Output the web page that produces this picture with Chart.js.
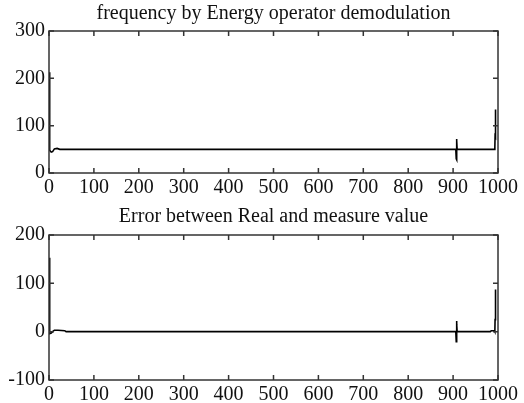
<!DOCTYPE html>
<html>
<head>
<meta charset="utf-8">
<script src="https://cdn.jsdelivr.net/npm/chart.js@4.4.1/dist/chart.umd.min.js"></script>
<style>
    body { margin: 0; background: #fff; }
    #wrap { position: relative; width: 524px; height: 403px; }
    canvas { position: absolute; left: 0; }
</style>
</head>
<body>
<div id="wrap">
    <canvas id="freq" width="524" height="200" style="top:0"></canvas>
    <canvas id="err" width="524" height="203" style="top:200px"></canvas>
</div>
<script>
// demodulated frequency, sample index vs value
const freqX = [0, 1, 2, 5, 8, 12, 18, 24, 906, 907, 907.5, 908, 908.5, 909, 992, 993, 993.5, 994, 994.5, 995];
const freqY = [213, 120, 48, 44, 45, 51, 52, 50, 50, 30, 72, 28, 68, 50, 50, 55, 78, 134, 76, 128];

// error between real and measured value
const errX = [0, 1, 2, 5, 8, 12, 20, 35, 38, 906, 907, 907.5, 908, 908.5, 909, 983, 985, 992, 993, 993.5, 994, 994.5, 995];
const errY = [153, 60, -4, -3, 0, 3, 3, 2, 0, 0, -21, 22, -18, 15, 0, 0, 2, 2, 0, 25, 87, 30, 45];

const xTicks = [0, 100, 200, 300, 400, 500, 600, 700, 800, 900, 1000];
const freqRange = [0, 300];
const errRange = [-100, 200];

const serif = "'Liberation Serif', 'Times New Roman', serif";
const ink = '#111';

// MATLAB-style box with ticks pointing inward
const boxPlugin = {
    id: 'box',
    afterDraw(chart) {
        const { ctx, chartArea: a, scales } = chart;
        const len = 5;
        ctx.save();
        ctx.strokeStyle = '#333';
        ctx.lineWidth = 1.5;
        ctx.strokeRect(a.left, a.top, a.right - a.left, a.bottom - a.top);
        ctx.beginPath();
        scales.x.ticks.forEach(t => {
            const px = scales.x.getPixelForValue(t.value);
            ctx.moveTo(px, a.bottom); ctx.lineTo(px, a.bottom - len);
            ctx.moveTo(px, a.top); ctx.lineTo(px, a.top + len);
        });
        scales.y.ticks.forEach(t => {
            const py = scales.y.getPixelForValue(t.value);
            ctx.moveTo(a.left, py); ctx.lineTo(a.left + len, py);
            ctx.moveTo(a.right, py); ctx.lineTo(a.right - len, py);
        });
        ctx.stroke();
        ctx.restore();
    }
};

function makePlot(id, title, xs, ys, range, titlePad, xHeight) {
    const points = xs.map((x, i) => ({ x: x, y: ys[i] }));
    return new Chart(document.getElementById(id), {
        type: 'line',
        data: {
            datasets: [{
                data: points,
                borderColor: '#000',
                borderWidth: 1.6,
                pointRadius: 0,
                tension: 0
            }]
        },
        options: {
            responsive: false,
            animation: false,
            layout: { padding: { left: 0, right: 26, top: 0, bottom: 0 } },
            plugins: {
                legend: { display: false },
                tooltip: { enabled: false },
                title: {
                    display: true,
                    text: title,
                    fullSize: false,
                    color: ink,
                    font: { family: serif, size: 20, weight: 'normal', lineHeight: 1 },
                    padding: titlePad
                }
            },
            scales: {
                x: {
                    type: 'linear',
                    min: 0,
                    max: 1000,
                    afterBuildTicks: s => { s.ticks = xTicks.map(v => ({ value: v })); },
                    afterFit: s => { s.height = xHeight; },
                    grid: { display: false, drawTicks: false },
                    border: { display: false },
                    ticks: {
                        autoSkip: false,
                        maxRotation: 0,
                        padding: 3,
                        color: ink,
                        font: { family: serif, size: 20 },
                        callback: v => String(v)
                    }
                },
                y: {
                    min: range[0],
                    max: range[1],
                    afterFit: s => { s.width = 49; },
                    grid: { display: false, drawTicks: false },
                    border: { display: false },
                    ticks: {
                        stepSize: 100,
                        padding: 4,
                        color: ink,
                        font: { family: serif, size: 20 },
                        callback: v => String(v)
                    }
                }
            }
        },
        plugins: [boxPlugin]
    });
}

makePlot('freq', 'frequency by Energy operator demodulation', freqX, freqY, freqRange,
    { top: 4, bottom: 7 }, 27);
makePlot('err', 'Error between Real and measure value', errX, errY, errRange,
    { top: 7, bottom: 8 }, 23);
</script>
</body>
</html>
